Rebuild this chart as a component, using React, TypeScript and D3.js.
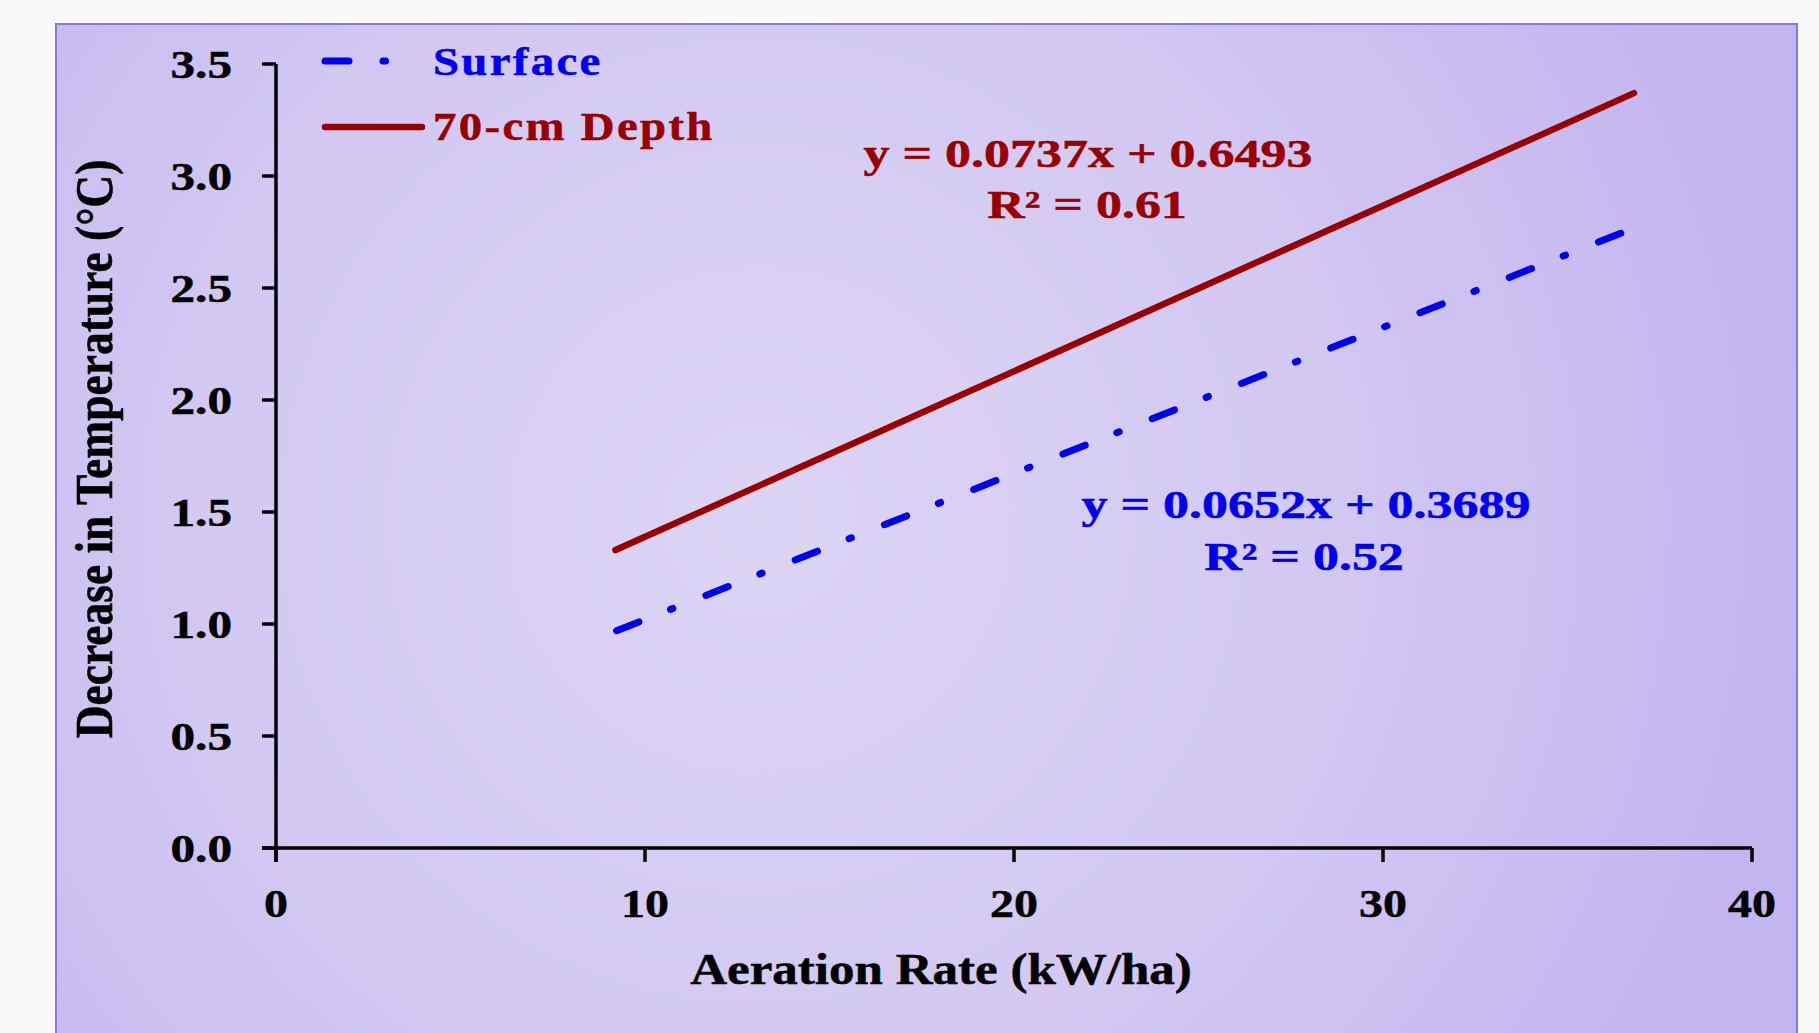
import React from 'react';
import * as d3 from 'd3';

// trendline end points
const surfacePoints = [
  { x: 9.23, y: 0.97 },
  { x: 36.53, y: 2.75 },
];
const depthPoints = [
  { x: 9.2, y: 1.33 },
  { x: 36.8, y: 3.37 },
];

const xTicks = [0, 10, 20, 30, 40];
const yTicks = [0, 0.5, 1.0, 1.5, 2.0, 2.5, 3.0, 3.5];

const seriesNames = ['Surface', '70-cm Depth'];
const equations = ['y = 0.0652x + 0.3689', 'y = 0.0737x + 0.6493'];
const rSquared = ['R² = 0.52', 'R² = 0.61'];

const W = 1819;
const H = 1033;
const BLUE = '#0000f0';
const RED = '#990000';
const FONT = '"Liberation Serif", "Times New Roman", serif';
const DASHDOT = '24 34 2.5 35.5';

// stretched text, the original picture is wider than it was drawn
const SText = ({ x, y, sx = 1.17, size = 41, anchor = 'start', fill = '#000', ls = 0, rotate = 0, children }) => (
  <g transform={`translate(${x},${y}) scale(${sx},1)${rotate ? ` rotate(${rotate})` : ''}`}>
    <text
      x={0}
      y={0}
      textAnchor={anchor}
      fontFamily={FONT}
      fontWeight="bold"
      fontSize={size}
      fill={fill}
      stroke={fill}
      strokeWidth={0.5}
      letterSpacing={ls}
    >
      {children}
    </text>
  </g>
);

const App = () => {
  const xScale = d3.scaleLinear().domain([0, 40]).range([276, 1752]);
  const yScale = d3.scaleLinear().domain([0, 3.5]).range([848, 64]);

  const line = d3.line<{ x: number; y: number }>()
    .x(d => xScale(d.x))
    .y(d => yScale(d.y));

  const x0 = xScale(0);
  const y0 = yScale(0);

  return (
    <svg width={W} height={H} style={{ position: 'absolute', left: 0, top: 0, display: 'block' }}>
      <defs>
        <radialGradient id="bg" gradientUnits="userSpaceOnUse" cx={760} cy={520} r={1050}>
          <stop offset="0" stopColor="#ddd5f4" />
          <stop offset="0.55" stopColor="#d2c8f2" />
          <stop offset="1" stopColor="#c3b5ef" />
        </radialGradient>
      </defs>
      <rect x={0} y={0} width={W} height={H} fill="#f9f9f9" />
      <rect x={56} y={24} width={1741} height={1020} fill="url(#bg)" stroke="#8f72e6" strokeWidth={2} />

      {/* axes */}
      <g stroke="#000" strokeWidth={3.5} fill="none">
        <line x1={x0} y1={yScale(3.5)} x2={x0} y2={y0 + 14} />
        <line x1={x0 - 14} y1={y0} x2={xScale(40)} y2={y0} />
        {yTicks.map(t => (
          <line key={t} x1={x0 - 14} y1={yScale(t)} x2={x0} y2={yScale(t)} />
        ))}
        {xTicks.map(t => (
          <line key={t} x1={xScale(t)} y1={y0} x2={xScale(t)} y2={y0 + 14} />
        ))}
      </g>

      {yTicks.map(t => (
        <SText key={t} x={232} y={yScale(t) + 14} anchor="end" sx={1.2} size={41}>
          {t.toFixed(1)}
        </SText>
      ))}
      {xTicks.map(t => (
        <SText key={t} x={xScale(t)} y={917} anchor="middle" sx={1.17} size={41}>
          {t}
        </SText>
      ))}

      <SText x={941} y={984} anchor="middle" sx={1.16} size={44}>
        Aeration Rate (kW/ha)
      </SText>
      <SText x={112} y={449} anchor="middle" sx={1.16} size={45.5} rotate={-90}>
        Decrease in Temperature (°C)
      </SText>

      {/* trendlines */}
      <path
        d={line(depthPoints)}
        stroke={RED}
        strokeWidth={6.5}
        strokeLinecap="round"
        fill="none"
      />
      <path
        d={line(surfacePoints)}
        stroke={BLUE}
        strokeWidth={7}
        strokeLinecap="round"
        strokeDasharray={DASHDOT}
        fill="none"
      />

      {/* legend */}
      <line x1={325} y1={61} x2={418} y2={61} stroke={BLUE} strokeWidth={7} strokeLinecap="round" strokeDasharray={DASHDOT} />
      <SText x={433} y={75} size={40} ls={2} fill={BLUE}>{seriesNames[0]}</SText>
      <line x1={325} y1={127} x2={422} y2={127} stroke={RED} strokeWidth={6.5} strokeLinecap="round" />
      <SText x={433} y={140} size={40} ls={2} fill={RED}>{seriesNames[1]}</SText>

      {/* equations */}
      <SText x={1088} y={167} anchor="middle" sx={1.3} size={40} fill={RED}>{equations[1]}</SText>
      <SText x={1087} y={218} anchor="middle" sx={1.3} size={40} fill={RED}>{rSquared[1]}</SText>
      <SText x={1306} y={518} anchor="middle" sx={1.3} size={40} fill={BLUE}>{equations[0]}</SText>
      <SText x={1304} y={570} anchor="middle" sx={1.3} size={40} fill={BLUE}>{rSquared[0]}</SText>
    </svg>
  );
};

export default App;
